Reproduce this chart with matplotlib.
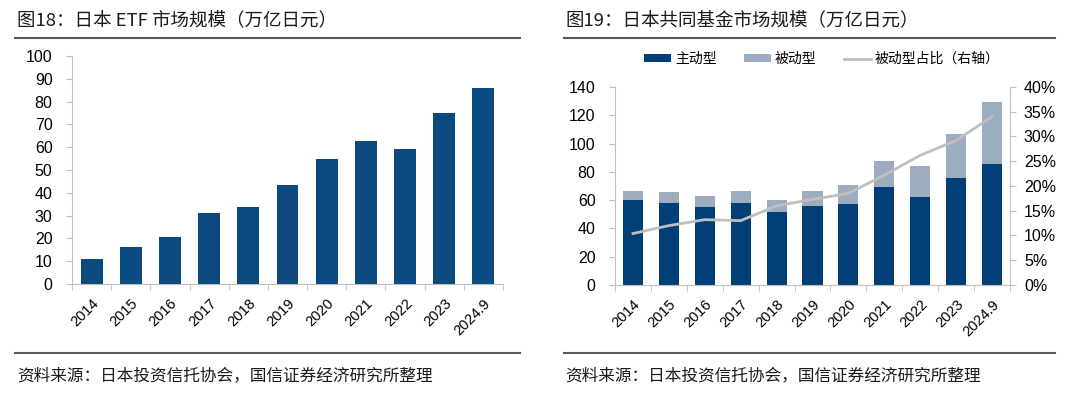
import matplotlib
matplotlib.use('Agg')
import matplotlib.pyplot as plt
from matplotlib.lines import Line2D
from matplotlib.ticker import FuncFormatter, MultipleLocator

plt.rcParams['font.family'] = ['Liberation Sans', 'Noto Sans CJK SC']

# 数据
years = ['2014', '2015', '2016', '2017', '2018', '2019', '2020', '2021', '2022', '2023', '2024.9']
etf = [10.8, 16.4, 20.5, 31.0, 33.8, 43.4, 54.8, 62.6, 59.4, 75.0, 85.8]
active = [60.0, 58.1, 55.0, 58.1, 51.3, 55.8, 57.6, 69.4, 62.4, 76.0, 85.9]
passive = [6.8, 7.8, 8.0, 8.7, 8.9, 11.0, 13.0, 18.4, 21.4, 30.6, 43.5]
passive_pct = [10.4, 12.0, 13.2, 13.0, 16.0, 17.3, 18.5, 22.2, 26.2, 29.2, 34.0]

dark1 = '#0B4A7E'
dark2 = '#003F77'
light = '#9CADBF'
grey = '#BFBFBF'
cjk = ['Noto Sans CJK SC', 'DejaVu Sans']

fig = plt.figure(figsize=(10.8, 4.08), dpi=100)


def fx(px):
    return px / 1080


def fy(py):
    return 1 - py / 408


def style_axis(ax):
    for s in ['top', 'right']:
        ax.spines[s].set_visible(False)
    for s in ['left', 'bottom']:
        ax.spines[s].set_color(grey)
    x = list(range(len(years)))
    ax.set_xticks(x)
    ax.set_xticklabels(years, rotation=45, ha='right', rotation_mode='anchor', fontsize=10.5)
    ax.tick_params(axis='x', length=0, pad=9)
    ax.set_xticks([i - 0.5 for i in range(len(years) + 1)], minor=True)
    ax.tick_params(axis='x', which='minor', length=4, color=grey, direction='out')
    ax.tick_params(axis='y', length=4, color=grey, labelsize=11.5, pad=10)
    ax.set_xlim(-0.5, len(years) - 0.5)


# 图18
ax1 = fig.add_axes([fx(72), fy(284), fx(503 - 72), (284 - 56) / 408])
ax1.bar(range(len(years)), etf, width=0.56, color=dark1)
ax1.set_ylim(0, 100)
ax1.yaxis.set_major_locator(MultipleLocator(10))
style_axis(ax1)

# 图19
ax2 = fig.add_axes([fx(615), fy(285), fx(1010 - 615), (285 - 87) / 408])
b1 = ax2.bar(range(len(years)), active, width=0.56, color=dark2, label='主动型')
b2 = ax2.bar(range(len(years)), passive, width=0.56, bottom=active, color=light, label='被动型')
ax2.set_ylim(0, 140)
ax2.yaxis.set_major_locator(MultipleLocator(20))
style_axis(ax2)

ax3 = ax2.twinx()
l1, = ax3.plot(range(len(years)), passive_pct, color=grey, lw=2, label='被动型占比（右轴）')
ax3.set_ylim(0, 40)
ax3.yaxis.set_major_locator(MultipleLocator(5))
ax3.yaxis.set_major_formatter(FuncFormatter(lambda v, p: '%d%%' % v))
for s in ['top', 'left', 'bottom']:
    ax3.spines[s].set_visible(False)
ax3.spines['right'].set_color(grey)
ax3.tick_params(axis='y', length=4, color=grey, labelsize=11.5, pad=6)

fig.legend([b1, b2, l1], ['主动型', '被动型', '被动型占比（右轴）'], loc='center',
           bbox_to_anchor=(fx(822), fy(59)), ncol=3, frameon=False,
           prop={'family': cjk, 'size': 10}, handlelength=1.9, handleheight=0.45,
           columnspacing=2.0, handletextpad=0.3)

# 标题、分隔线、来源
fig.text(fx(17), fy(21), '图18：日本 ETF 市场规模（万亿日元）', family=cjk, fontsize=13.3,
         va='center', ha='left', color='#1a1a1a')
fig.text(fx(565), fy(21), '图19：日本共同基金市场规模（万亿日元）', family=cjk, fontsize=13.3,
         va='center', ha='left', color='#1a1a1a')
for x0, x1 in [(15, 520), (564, 1055)]:
    for yy in [38, 353]:
        fig.add_artist(Line2D([fx(x0), fx(x1)], [fy(yy), fy(yy)], color='#595959', lw=1.5))
fig.text(fx(17), fy(376), '资料来源：日本投资信托协会，国信证券经济研究所整理', family=cjk,
         fontsize=12, va='center', ha='left', color='#1a1a1a')
fig.text(fx(565), fy(376), '资料来源：日本投资信托协会，国信证券经济研究所整理', family=cjk,
         fontsize=12, va='center', ha='left', color='#1a1a1a')

fig.savefig('out.png', dpi=100)
